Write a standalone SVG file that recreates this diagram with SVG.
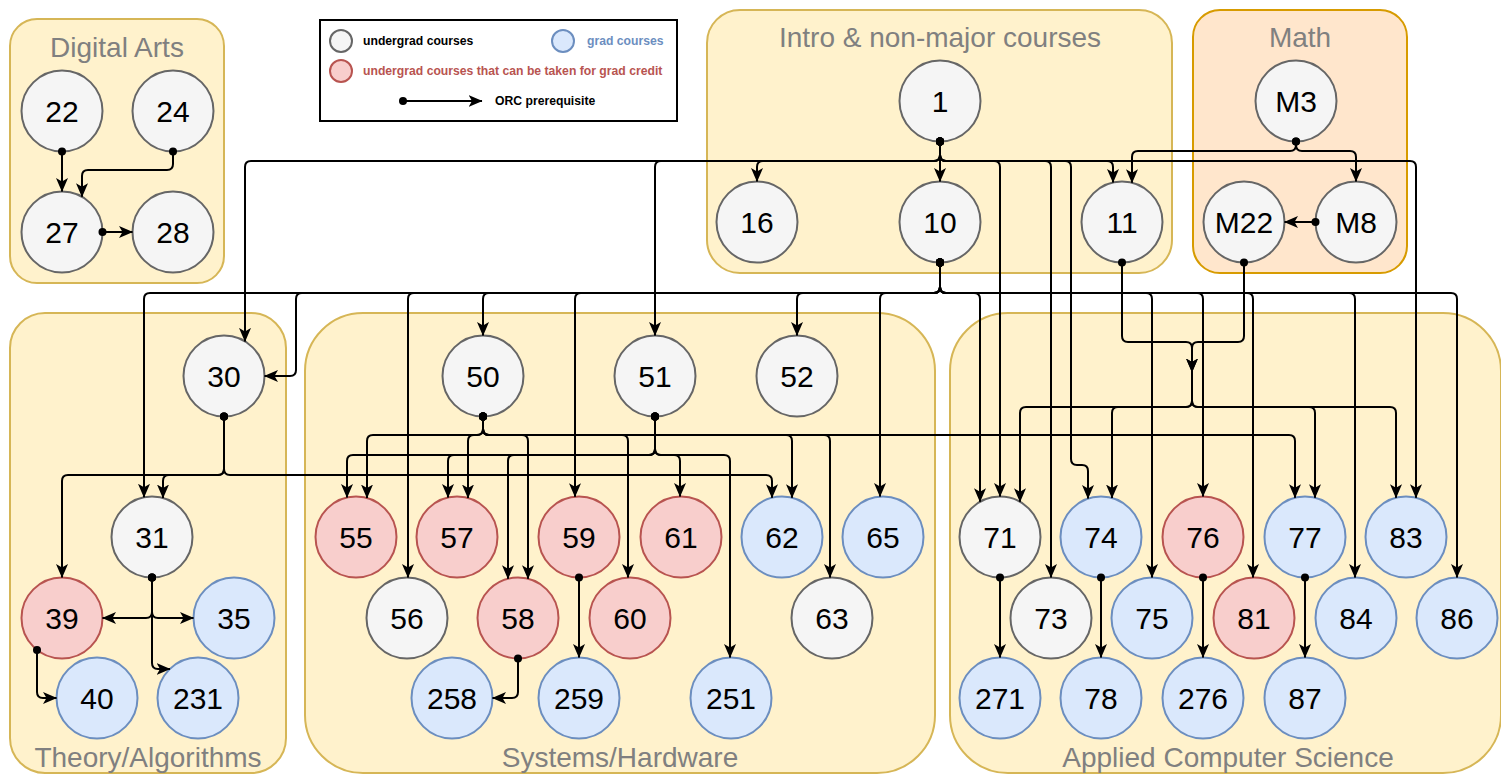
<svg xmlns="http://www.w3.org/2000/svg" width="1501" height="775" viewBox="0 0 1501 775">
<style>
.grp{fill:#fff2cc;stroke:#d6b656;stroke-width:2}
.math{fill:#ffe6cc;stroke:#d79b00;stroke-width:2}
.gt{font-family:"Liberation Sans",Arial,sans-serif;font-size:28px;fill:#808080;text-anchor:middle}
.ug{fill:#f5f5f5;stroke:#666666;stroke-width:2}
.gr{fill:#dae8fc;stroke:#6c8ebf;stroke-width:2}
.rd{fill:#f8cecc;stroke:#b85450;stroke-width:2}
.nt{font-family:"Liberation Sans",Arial,sans-serif;font-size:30px;fill:#000;text-anchor:middle}
.e{fill:none;stroke:#000;stroke-width:2;marker-start:url(#dot);marker-end:url(#arr)}
.e2{fill:none;stroke:#000;stroke-width:2;marker-end:url(#arr)}
.lt{font-family:"Liberation Sans",Arial,sans-serif;font-size:12.2px;font-weight:bold}
</style>
<defs>
<marker id="arr" markerWidth="14" markerHeight="12" refX="13.5" refY="6" orient="auto" markerUnits="userSpaceOnUse"><path d="M0,0 L14,6 L0,12 L3.5,6 z" fill="#000"/></marker>
<marker id="dot" markerWidth="10" markerHeight="10" refX="5" refY="5" markerUnits="userSpaceOnUse"><circle cx="5" cy="5" r="4" fill="#000"/></marker>
</defs>
<rect width="1501" height="775" fill="#fff"/>
<g id="containers">
<rect class="grp" x="10" y="19" width="214" height="264" rx="27"/>
<text class="gt" x="117" y="57">Digital Arts</text>
<rect class="grp" x="707" y="10" width="465" height="263" rx="33"/>
<text class="gt" x="940" y="47">Intro &amp; non-major courses</text>
<rect class="math" x="1193" y="10" width="214" height="263" rx="27"/>
<text class="gt" x="1300" y="47">Math</text>
<rect class="grp" x="10" y="313" width="276" height="460" rx="35"/>
<text class="gt" x="148" y="767">Theory/Algorithms</text>
<rect class="grp" x="305" y="313" width="630" height="460" rx="58"/>
<text class="gt" x="620" y="767">Systems/Hardware</text>
<rect class="grp" x="950" y="313" width="551" height="460" rx="58"/>
<text class="gt" x="1228" y="767">Applied Computer Science</text>
</g>
<g id="legend">
<rect x="320" y="20" width="357" height="101" fill="#fff" stroke="#000" stroke-width="2"/>
<circle class="ug" cx="341" cy="41" r="11" stroke-width="1.5"/>
<text class="lt" x="363" y="45" fill="#000">undergrad courses</text>
<circle class="gr" cx="563" cy="41" r="11" stroke-width="1.5"/>
<text class="lt" x="587" y="45" fill="#6c8ebf">grad courses</text>
<circle class="rd" cx="341" cy="71" r="11" stroke-width="1.5"/>
<text class="lt" x="363" y="75" fill="#b85450">undergrad courses that can be taken for grad credit</text>
<path class="e" d="M403 101 H482"/>
<text class="lt" x="495" y="105" fill="#000">ORC prerequisite</text>
</g>
<g id="n22"><circle class="ug" cx="62" cy="111" r="40.5"/><text class="nt" x="62" y="122">22</text></g>
<g id="n24"><circle class="ug" cx="173" cy="111" r="40.5"/><text class="nt" x="173" y="122">24</text></g>
<g id="n27"><circle class="ug" cx="62" cy="232" r="40.5"/><text class="nt" x="62" y="243">27</text></g>
<g id="n28"><circle class="ug" cx="173" cy="232" r="40.5"/><text class="nt" x="173" y="243">28</text></g>
<g id="n1"><circle class="ug" cx="940" cy="101" r="40.5"/><text class="nt" x="940" y="112">1</text></g>
<g id="n16"><circle class="ug" cx="757" cy="222" r="40.5"/><text class="nt" x="757" y="233">16</text></g>
<g id="n10"><circle class="ug" cx="940" cy="222" r="40.5"/><text class="nt" x="940" y="233">10</text></g>
<g id="n11"><circle class="ug" cx="1122" cy="222" r="40.5"/><text class="nt" x="1122" y="233">11</text></g>
<g id="nM3"><circle class="ug" cx="1296" cy="101" r="40.5"/><text class="nt" x="1296" y="112">M3</text></g>
<g id="nM22"><circle class="ug" cx="1244" cy="222" r="40.5"/><text class="nt" x="1244" y="233">M22</text></g>
<g id="nM8"><circle class="ug" cx="1356" cy="222" r="40.5"/><text class="nt" x="1356" y="233">M8</text></g>
<g id="n30"><circle class="ug" cx="224" cy="376" r="40.5"/><text class="nt" x="224" y="387">30</text></g>
<g id="n50"><circle class="ug" cx="483" cy="376" r="40.5"/><text class="nt" x="483" y="387">50</text></g>
<g id="n51"><circle class="ug" cx="655" cy="376" r="40.5"/><text class="nt" x="655" y="387">51</text></g>
<g id="n52"><circle class="ug" cx="797" cy="376" r="40.5"/><text class="nt" x="797" y="387">52</text></g>
<g id="n31"><circle class="ug" cx="152" cy="537" r="40.5"/><text class="nt" x="152" y="548">31</text></g>
<g id="n55"><circle class="rd" cx="356" cy="537" r="40.5"/><text class="nt" x="356" y="548">55</text></g>
<g id="n57"><circle class="rd" cx="457" cy="537" r="40.5"/><text class="nt" x="457" y="548">57</text></g>
<g id="n59"><circle class="rd" cx="579" cy="537" r="40.5"/><text class="nt" x="579" y="548">59</text></g>
<g id="n61"><circle class="rd" cx="681" cy="537" r="40.5"/><text class="nt" x="681" y="548">61</text></g>
<g id="n62"><circle class="gr" cx="782" cy="537" r="40.5"/><text class="nt" x="782" y="548">62</text></g>
<g id="n65"><circle class="gr" cx="883" cy="537" r="40.5"/><text class="nt" x="883" y="548">65</text></g>
<g id="n71"><circle class="ug" cx="1000" cy="537" r="40.5"/><text class="nt" x="1000" y="548">71</text></g>
<g id="n74"><circle class="gr" cx="1101" cy="537" r="40.5"/><text class="nt" x="1101" y="548">74</text></g>
<g id="n76"><circle class="rd" cx="1203" cy="537" r="40.5"/><text class="nt" x="1203" y="548">76</text></g>
<g id="n77"><circle class="gr" cx="1305" cy="537" r="40.5"/><text class="nt" x="1305" y="548">77</text></g>
<g id="n83"><circle class="gr" cx="1406" cy="537" r="40.5"/><text class="nt" x="1406" y="548">83</text></g>
<g id="n39"><circle class="rd" cx="62" cy="618" r="40.5"/><text class="nt" x="62" y="629">39</text></g>
<g id="n35"><circle class="gr" cx="234" cy="618" r="40.5"/><text class="nt" x="234" y="629">35</text></g>
<g id="n56"><circle class="ug" cx="407" cy="618" r="40.5"/><text class="nt" x="407" y="629">56</text></g>
<g id="n58"><circle class="rd" cx="518" cy="618" r="40.5"/><text class="nt" x="518" y="629">58</text></g>
<g id="n60"><circle class="rd" cx="630" cy="618" r="40.5"/><text class="nt" x="630" y="629">60</text></g>
<g id="n63"><circle class="ug" cx="832" cy="618" r="40.5"/><text class="nt" x="832" y="629">63</text></g>
<g id="n73"><circle class="ug" cx="1051" cy="618" r="40.5"/><text class="nt" x="1051" y="629">73</text></g>
<g id="n75"><circle class="gr" cx="1152" cy="618" r="40.5"/><text class="nt" x="1152" y="629">75</text></g>
<g id="n81"><circle class="rd" cx="1254" cy="618" r="40.5"/><text class="nt" x="1254" y="629">81</text></g>
<g id="n84"><circle class="gr" cx="1356" cy="618" r="40.5"/><text class="nt" x="1356" y="629">84</text></g>
<g id="n86"><circle class="gr" cx="1457" cy="618" r="40.5"/><text class="nt" x="1457" y="629">86</text></g>
<g id="n40"><circle class="gr" cx="97" cy="698" r="40.5"/><text class="nt" x="97" y="709">40</text></g>
<g id="n231"><circle class="gr" cx="198" cy="698" r="40.5"/><text class="nt" x="198" y="709">231</text></g>
<g id="n258"><circle class="gr" cx="452" cy="698" r="40.5"/><text class="nt" x="452" y="709">258</text></g>
<g id="n259"><circle class="gr" cx="579" cy="698" r="40.5"/><text class="nt" x="579" y="709">259</text></g>
<g id="n251"><circle class="gr" cx="731" cy="698" r="40.5"/><text class="nt" x="731" y="709">251</text></g>
<g id="n271"><circle class="gr" cx="1000" cy="698" r="40.5"/><text class="nt" x="1000" y="709">271</text></g>
<g id="n78"><circle class="gr" cx="1101" cy="698" r="40.5"/><text class="nt" x="1101" y="709">78</text></g>
<g id="n276"><circle class="gr" cx="1203" cy="698" r="40.5"/><text class="nt" x="1203" y="709">276</text></g>
<g id="n87"><circle class="gr" cx="1305" cy="698" r="40.5"/><text class="nt" x="1305" y="709">87</text></g>
<g id="connectors">
<path class="e" d="M940 141.5 V155 Q940 161 934 161 H763 Q757 161 757 167 V181.5"/>
<path class="e" d="M940 141.5 V181.5"/>
<path class="e" d="M940 141.5 V155 Q940 161 934 161 H661 Q655 161 655 167 V335.5"/>
<path class="e" d="M940 141.5 V155 Q940 161 934 161 H251 Q245 161 245 167 V341.4"/>
<path class="e" d="M940 141.5 V155 Q940 161 946 161 H994 Q1000 161 1000 167 V496.5"/>
<path class="e" d="M940 141.5 V155 Q940 161 946 161 H1045 Q1051 161 1051 167 V577.5"/>
<path class="e" d="M940 141.5 V155 Q940 161 946 161 H1065 Q1071 161 1071 167 V459 Q1071 465 1077 465 H1082 Q1088 465 1088 471 V498.6"/>
<path class="e" d="M940 141.5 V155 Q940 161 946 161 H1107 Q1113 161 1113 167 V182.5"/>
<path class="e" d="M940 141.5 V155 Q940 161 946 161 H1410 Q1416 161 1416 167 V497.8"/>
<path class="e" d="M1296 141.5 V145 Q1296 151 1290 151 H1138 Q1132 151 1132 157 V182.8"/>
<path class="e" d="M1296 141.5 V145 Q1296 151 1302 151 H1350 Q1356 151 1356 157 V181.5"/>
<path class="e" d="M1315.5 222 H1284.5"/>
<path class="e" d="M940 262.5 V287 Q940 293 934 293 H150 Q144 293 144 299 V497.3"/>
<path class="e" d="M940 262.5 V287 Q940 293 934 293 H302 Q296 293 296 299 V370 Q296 376 290 376 H264.5"/>
<path class="e" d="M940 262.5 V287 Q940 293 934 293 H414 Q408 293 408 299 V577.5"/>
<path class="e" d="M940 262.5 V287 Q940 293 934 293 H489 Q483 293 483 299 V335.5"/>
<path class="e" d="M940 262.5 V287 Q940 293 934 293 H581 Q575 293 575 299 V496.7"/>
<path class="e" d="M940 262.5 V287 Q940 293 934 293 H803 Q797 293 797 299 V335.5"/>
<path class="e" d="M940 262.5 V287 Q940 293 934 293 H886 Q880 293 880 299 V496.6"/>
<path class="e" d="M940 262.5 V287 Q940 293 946 293 H974 Q980 293 980 299 V501.8"/>
<path class="e" d="M940 262.5 V287 Q940 293 946 293 H1146 Q1152 293 1152 299 V577.5"/>
<path class="e" d="M940 262.5 V287 Q940 293 946 293 H1197 Q1203 293 1203 299 V496.5"/>
<path class="e" d="M940 262.5 V287 Q940 293 946 293 H1247 Q1253 293 1253 299 V577.5"/>
<path class="e" d="M940 262.5 V287 Q940 293 946 293 H1349 Q1355 293 1355 299 V577.5"/>
<path class="e" d="M940 262.5 V287 Q940 293 946 293 H1451 Q1457 293 1457 299 V577.5"/>
<path class="e" d="M1122 262.5 V336 Q1122 342 1128 342 H1186 Q1192 342 1192 348 V372"/>
<path class="e" d="M1244 262.5 V336 Q1244 342 1238 342 H1198 Q1192 342 1192 348 V372"/>
<path class="e2" d="M1192 372 V401 Q1192 407 1186 407 H1026 Q1020 407 1020 413 V501.8"/>
<path class="e2" d="M1192 372 V401 Q1192 407 1186 407 H1118 Q1112 407 1112 413 V498"/>
<path class="e2" d="M1192 372 V401 Q1192 407 1198 407 H1309 Q1315 407 1315 413 V497.8"/>
<path class="e2" d="M1192 372 V401 Q1192 407 1198 407 H1390 Q1396 407 1396 413 V497.8"/>
<path class="e" d="M224 416.5 V469 Q224 475 218 475 H169 Q163 475 163 481 V498"/>
<path class="e" d="M224 416.5 V469 Q224 475 218 475 H68 Q62 475 62 481 V577.5"/>
<path class="e" d="M224 416.5 V469 Q224 475 230 475 H766 Q772 475 772 481 V497.8"/>
<path class="e" d="M483 416.5 V429 Q483 435 477 435 H373 Q367 435 367 441 V498"/>
<path class="e" d="M483 416.5 V429 Q483 435 477 435 H474 Q468 435 468 441 V498"/>
<path class="e" d="M483 416.5 V429 Q483 435 489 435 H522 Q528 435 528 441 V578.8"/>
<path class="e" d="M483 416.5 V429 Q483 435 489 435 H622 Q628 435 628 441 V577.5"/>
<path class="e" d="M483 416.5 V429 Q483 435 489 435 H786 Q792 435 792 441 V497.8"/>
<path class="e" d="M483 416.5 V429 Q483 435 489 435 H824 Q830 435 830 441 V577.5"/>
<path class="e" d="M483 416.5 V429 Q483 435 489 435 H1289 Q1295 435 1295 441 V497.8"/>
<path class="e" d="M655 416.5 V449 Q655 455 649 455 H353 Q347 455 347 461 V497.5"/>
<path class="e" d="M655 416.5 V449 Q655 455 649 455 H454 Q448 455 448 461 V497.5"/>
<path class="e" d="M655 416.5 V449 Q655 455 649 455 H514 Q508 455 508 461 V578.8"/>
<path class="e" d="M655 416.5 V449 Q655 455 661 455 H674 Q680 455 680 461 V496.5"/>
<path class="e" d="M655 416.5 V449 Q655 455 661 455 H724 Q730 455 730 461 V657.5"/>
<path class="e" d="M152 577.5 V612 Q152 618 146 618 H102.5"/>
<path class="e" d="M152 577.5 V612 Q152 618 158 618 H193.5"/>
<path class="e" d="M152 577.5 V663 Q152 669 158 669 H170"/>
<path class="e" d="M37 650 V692 Q37 698 43 698 H56.5"/>
<path class="e" d="M518 658.5 V692 Q518 698 512 698 H492.5"/>
<path class="e" d="M579 577.5 V657.5"/>
<path class="e" d="M1000 577.5 V657.5"/>
<path class="e" d="M1101 577.5 V657.5"/>
<path class="e" d="M1203 577.5 V657.5"/>
<path class="e" d="M1305 577.5 V657.5"/>
<path class="e" d="M62 151.5 V191.5"/>
<path class="e" d="M173 151.5 V164 Q173 170 167 170 H88 Q82 170 82 176 V196.8"/>
<path class="e" d="M102.5 232 H132.5"/>
</g>
</svg>
